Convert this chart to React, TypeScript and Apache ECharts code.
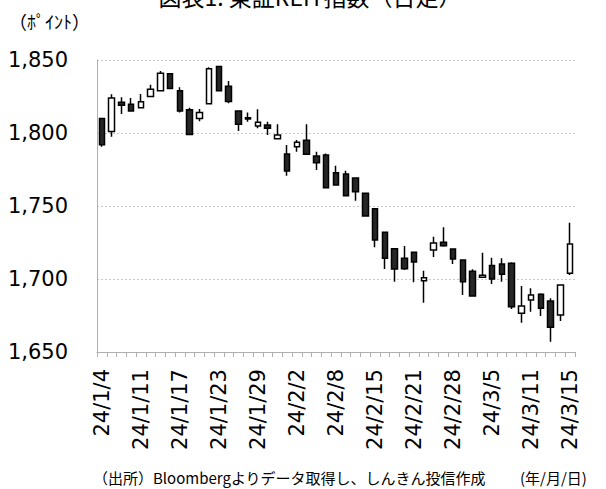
import React, { useEffect, useRef } from "react";
import * as echarts from "echarts";

const dates = [
  "24/1/4", "24/1/5", "24/1/9", "24/1/10", "24/1/11", "24/1/12", "24/1/15", "24/1/16", "24/1/17", "24/1/18",
  "24/1/19", "24/1/22", "24/1/23", "24/1/24", "24/1/25", "24/1/26", "24/1/29", "24/1/30", "24/1/31", "24/2/1",
  "24/2/2", "24/2/5", "24/2/6", "24/2/7", "24/2/8", "24/2/9", "24/2/13", "24/2/14", "24/2/15", "24/2/16",
  "24/2/19", "24/2/20", "24/2/21", "24/2/22", "24/2/26", "24/2/27", "24/2/28", "24/2/29", "24/3/1", "24/3/4",
  "24/3/5", "24/3/6", "24/3/7", "24/3/8", "24/3/11", "24/3/12", "24/3/13", "24/3/14", "24/3/15",
];
const opens = [
  1810, 1801, 1821, 1819.7, 1817.3, 1825, 1829, 1840.5, 1829, 1816,
  1810, 1820, 1845.5, 1832, 1815, 1810.5, 1804.8, 1805.5, 1796, 1785.6,
  1790.6, 1795, 1784.2, 1785, 1772.8, 1772, 1769.2, 1758.7, 1748.2, 1732,
  1720.8, 1714.2, 1718.3, 1698.8, 1719.9, 1725.1, 1720.5, 1713, 1705.3, 1701.2,
  1709.2, 1710.3, 1710.8, 1676.5, 1685.6, 1689.5, 1684.9, 1675.3, 1703.9,
];
const closes = [
  1792, 1824, 1819, 1815, 1821.4, 1830, 1841, 1830.5, 1815, 1799,
  1814, 1844, 1829, 1821.5, 1806, 1809.6, 1807.3, 1803.2, 1798.6, 1774,
  1793.6, 1785.4, 1779.7, 1762.5, 1764.4, 1757, 1759.8, 1743.2, 1726.7, 1714.2,
  1706.8, 1707, 1711.6, 1700.9, 1724.7, 1722.8, 1713.7, 1698.2, 1688.4, 1702.5,
  1700, 1703.2, 1681, 1681.5, 1689, 1680, 1667, 1695.9, 1724,
];
const lows = [
  1790.5, 1797.5, 1813, 1814.5, 1817, 1824.5, 1828.5, 1830, 1814, 1798.5,
  1808, 1820, 1828.5, 1820.3, 1801.4, 1807.7, 1803.2, 1798.6, 1795.5, 1770.8,
  1787.2, 1785, 1774.7, 1762, 1764, 1756.5, 1753.6, 1743, 1721.7, 1706.8,
  1698.2, 1706.2, 1697.7, 1683.8, 1715, 1722.1, 1710.2, 1689, 1688, 1701,
  1696.6, 1698.2, 1679.5, 1670, 1677.6, 1674.7, 1657, 1671.2, 1702.7,
];
const highs = [
  1810.5, 1826.5, 1824.5, 1824, 1826.7, 1833, 1842.5, 1841, 1831.3, 1817.3,
  1816.5, 1845, 1846, 1835.6, 1815.5, 1814, 1816.2, 1807.7, 1806, 1791.8,
  1795.2, 1806, 1787.2, 1786, 1777.6, 1774.2, 1769.5, 1759, 1748.6, 1732,
  1721, 1722.6, 1718.5, 1705.7, 1729, 1735.4, 1720.5, 1713, 1706.6, 1718,
  1714.6, 1714.2, 1711.5, 1695.2, 1693.6, 1690.2, 1686.8, 1696, 1738.6,
];

const yTicks = [1650, 1700, 1750, 1800, 1850];

const titleText = "図表1: 東証REIT指数（日足）";
const unitText = "（ﾎﾟｲﾝﾄ）";
const sourceText = "（出所）Bloombergよりデータ取得し、しんきん投信作成";
const dateUnitText = "(年/月/日)";

const FONT = "'DejaVu Sans', 'Noto Sans CJK JP', sans-serif";
const JFONT = "'Noto Sans CJK JP', 'DejaVu Sans', sans-serif";

export default function App() {
  const ref = useRef<HTMLDivElement>(null);
  useEffect(() => {
    if (!ref.current) return;
    const chart = echarts.init(ref.current, undefined, { renderer: "svg" });
    const data = opens.map((o, i) => [o, closes[i], lows[i], highs[i]]);
    chart.setOption({
      animation: false,
      backgroundColor: "#ffffff",
      grid: { left: 97, right: 31, top: 60, bottom: 137 },
      xAxis: {
        type: "category",
        data: dates,
        boundaryGap: true,
        axisLine: { show: true, lineStyle: { color: "#b0b0b0", width: 1 } },
        axisTick: { show: true, interval: 0, length: 5, lineStyle: { color: "#b0b0b0" } },
        axisLabel: {
          interval: 3,
          rotate: 90,
          margin: 17,
          fontSize: 21,
          color: "#000",
          fontFamily: FONT,
        },
        splitLine: { show: false },
      },
      yAxis: {
        type: "value",
        min: yTicks[0],
        max: yTicks[yTicks.length - 1],
        interval: 50,
        axisLine: { show: true, lineStyle: { color: "#b0b0b0", width: 1 } },
        axisTick: { show: false },
        axisLabel: {
          margin: 29,
          fontSize: 21,
          color: "#000",
          fontFamily: FONT,
          formatter: (v: number) => v.toLocaleString("en-US"),
        },
        splitLine: { show: true, lineStyle: { color: "#c8c8c8", type: [2, 2], width: 1 } },
      },
      series: [
        {
          type: "candlestick",
          data,
          barWidth: 6,
          itemStyle: {
            color: "#ffffff",
            color0: "#262626",
            borderColor: "#000000",
            borderColor0: "#000000",
            borderWidth: 1.5,
          },
        },
      ],
      graphic: [
        {
          type: "text",
          x: 310,
          y: -4,
          style: {
            text: titleText,
            fontSize: 23,
            fill: "#000",
            fontFamily: JFONT,
            textAlign: "center",
            textVerticalAlign: "middle",
          },
        },
        {
          type: "text",
          x: 9,
          y: 21,
          style: {
            text: unitText,
            fontSize: 18,
            fill: "#000",
            fontFamily: JFONT,
            textVerticalAlign: "middle",
          },
        },
        {
          type: "text",
          x: 93,
          y: 477,
          style: {
            text: sourceText,
            fontSize: 15,
            fill: "#000",
            fontFamily: JFONT,
            textVerticalAlign: "middle",
          },
        },
        {
          type: "text",
          x: 520,
          y: 477,
          style: {
            text: dateUnitText,
            fontSize: 15,
            fill: "#000",
            fontFamily: JFONT,
            textVerticalAlign: "middle",
          },
        },
      ],
    });
    return () => chart.dispose();
  }, []);
  return (
    <div
      ref={ref}
      style={{ position: "fixed", left: 0, top: 0, width: 606, height: 489, background: "#fff" }}
    />
  );
}
